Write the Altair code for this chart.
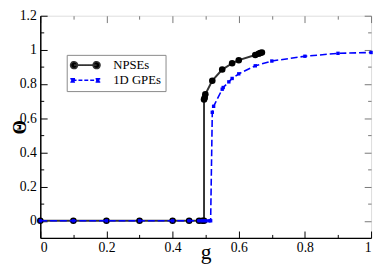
import altair as alt
import pandas as pd

# ---- data ----
npse_g = [0, 0.1, 0.2, 0.3, 0.4, 0.45, 0.48, 0.49, 0.495, 0.495, 0.497, 0.499,
          0.52, 0.55, 0.58, 0.6, 0.65, 0.66, 0.665, 0.67]
npse_v = [0, 0, 0, 0, 0, 0, 0, 0, 0, 0.71, 0.72, 0.74,
          0.82, 0.885, 0.922, 0.94, 0.97, 0.978, 0.982, 0.985]

gpe_g = [0, 0.1, 0.2, 0.3, 0.4, 0.45, 0.48, 0.49, 0.5, 0.51, 0.515,
         0.52, 0.524, 0.55, 0.553, 0.57, 0.58, 0.6, 0.65, 0.7, 0.8, 0.9, 1.0]
gpe_v = [0, 0, 0, 0, 0, 0, 0, 0, 0, 0, 0,
         0.635, 0.67, 0.77, 0.78, 0.813, 0.833, 0.86, 0.907, 0.935, 0.963, 0.98, 0.985]

series_names = ["NPSEs", "1D GPEs"]
x_major = [0, 0.2, 0.4, 0.6, 0.8, 1]
x_minor = [0.1, 0.3, 0.5, 0.7, 0.9]
y_major = [0, 0.2, 0.4, 0.6, 0.8, 1, 1.2]
y_minor = [0.1, 0.3, 0.5, 0.7, 0.9, 1.1]

W, H = 338, 227
FONT = "Liberation Serif"

npse = pd.DataFrame({"g": npse_g, "v": npse_v, "i": range(len(npse_g))})
gpe = pd.DataFrame({"g": gpe_g, "v": gpe_v, "i": range(len(gpe_g))})
leg = pd.DataFrame({"s": series_names})

xs = alt.Scale(domain=[0, 1], nice=False, zero=False)
ys = alt.Scale(domain=[-0.1, 1.2], nice=False, zero=False)

main_x = alt.Axis(values=x_major, format="~g", ticks=False, grid=False,
                  domainColor="black", domainWidth=1.5, labelPadding=3,
                  labelFont=FONT, labelFontSize=14, labelColor="black",
                  title="g", titleFont=FONT, titleFontSize=22,
                  titleFontWeight="normal", titleColor="black",
                  titleY=21, titleBaseline="alphabetic")
main_y = alt.Axis(values=y_major, format="~g", ticks=False, grid=False,
                  domainColor="black", domainWidth=1.5, labelPadding=4,
                  labelFont=FONT, labelFontSize=14, labelColor="black",
                  title="Θ", titleFont=FONT, titleFontSize=19,
                  titleFontWeight="bold", titleColor="black",
                  titleX=-21, titleBaseline="middle", titleAlign="center")

npse_line = alt.Chart(npse).mark_line(color="#333333", strokeWidth=2).encode(
    x=alt.X("g:Q", scale=xs, axis=main_x),
    y=alt.Y("v:Q", scale=ys, axis=main_y),
    order="i:Q",
)
npse_pts = alt.Chart(npse).mark_circle(color="black", size=45, opacity=1).encode(
    x=alt.X("g:Q", scale=xs, axis=None),
    y=alt.Y("v:Q", scale=ys, axis=None),
)
gpe_line = alt.Chart(gpe).mark_line(color="#0000ff", strokeWidth=1.6,
                                    strokeDash=[7, 3]).encode(
    x=alt.X("g:Q", scale=xs, axis=None),
    y=alt.Y("v:Q", scale=ys, axis=None),
    order="i:Q",
)
gpe_pts = alt.Chart(gpe).mark_square(color="#0000ff", size=12, opacity=1).encode(
    x=alt.X("g:Q", scale=xs, axis=None),
    y=alt.Y("v:Q", scale=ys, axis=None),
)


def tick_layer(xorient, yorient, xvals, yvals, size, color):
    ax = alt.Axis(orient=xorient, offset=-H, values=xvals, tickSize=size,
                  tickColor=color, tickWidth=1, labels=False, domain=False,
                  grid=False, title=None)
    ay = alt.Axis(orient=yorient, offset=-W, values=yvals, tickSize=size,
                  tickColor=color, tickWidth=1, labels=False, domain=False,
                  grid=False, title=None)
    return alt.Chart(npse).mark_point(opacity=0).encode(
        x=alt.X("g:Q", scale=xs, axis=ax),
        y=alt.Y("v:Q", scale=ys, axis=ay),
    )


t1 = tick_layer("top", "right", x_major, y_major, 7, "black")
t2 = tick_layer("top", "right", x_minor, y_minor, 3.5, "black")
t3 = tick_layer("bottom", "left", x_major, y_major, 7, "#777777")
t4 = tick_layer("bottom", "left", x_minor, y_minor, 3.5, "#777777")

# legend symbols, unit = 5 px (symbolSize 100)
path_npse = ("M-2.3,0L2.3,0"
             "M-3.0,0a0.7,0.7 0 1,0 1.4,0a0.7,0.7 0 1,0 -1.4,0"
             "M1.6,0a0.7,0.7 0 1,0 1.4,0a0.7,0.7 0 1,0 -1.4,0")
path_gpe = ("M-2.6,0L2.6,0"
            "M-2.9,-0.32L-2.26,-0.32L-2.26,0.32L-2.9,0.32Z"
            "M2.26,-0.32L2.9,-0.32L2.9,0.32L2.26,0.32Z")

legend = alt.Legend(title=None, orient="none", legendX=27, legendY=40,
                    strokeColor="#888888", padding=4, symbolSize=100,
                    symbolStrokeWidth=1.6, symbolOffset=8.5, labelOffset=22,
                    rowPadding=1.5, labelFont=FONT, labelFontSize=13,
                    labelColor="black")
leg_layer = alt.Chart(leg).mark_point(opacity=1, strokeWidth=1.6).encode(
    fill=alt.Fill("s:N", scale=alt.Scale(domain=series_names, range=["black", "#0000ff"]),
                  legend=legend),
    stroke=alt.Stroke("s:N", scale=alt.Scale(domain=series_names, range=["#333333", "#0000ff"])),
    shape=alt.Shape("s:N", scale=alt.Scale(domain=series_names, range=[path_npse, path_gpe])),
    strokeDash=alt.StrokeDash("s:N", scale=alt.Scale(domain=series_names, range=[[1, 0], [4, 2]])),
).transform_filter("false")

chart = alt.layer(
    npse_line, npse_pts, gpe_line, gpe_pts, t1, t2, t3, t4, leg_layer
).resolve_axis(x="independent", y="independent").properties(
    width=W, height=H,
    autosize=alt.AutoSizeParams(type="none"),
    padding={"left": 33, "top": 5, "right": 3, "bottom": 34},
).configure_view(stroke="#888888", strokeWidth=1).configure(background="white")

chart.save("out.html", embed_options={"renderer": "svg", "actions": False})
